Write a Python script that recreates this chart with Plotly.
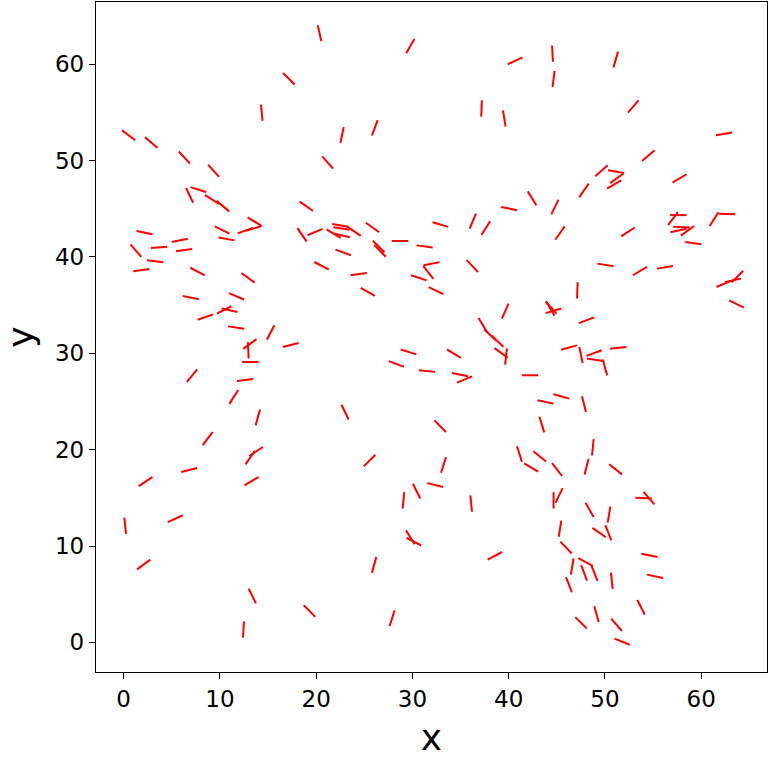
import math
import plotly.graph_objects as go

# Segment centres (data units) and direction components
cx = [14.35, 0.52, 2.86, 6.31, 9.34, 6.85, 7.76, 9.18, 10.31, 2.17, 10.23, 12.64, 13.51, 13.60,
      20.35, 29.78, 17.16, 22.69, 26.09, 21.19, 18.98, 25.86, 18.53, 19.88, 21.81, 22.51, 22.64,
      22.67, 23.93, 26.49, 26.63, 28.71, 31.27, 22.80, 20.57, 24.41, 25.36, 31.99, 31.65, 30.66,
      32.45, 15.27, 17.35, 29.60, 28.34, 31.51, 23.00, 44.55, 44.66, 40.66, 37.18, 39.54, 47.82,
      42.42, 40.05, 44.80, 36.27, 37.62, 32.90, 45.33, 51.12, 52.94, 62.37, 54.50, 49.64, 51.15,
      50.94, 51.23, 57.74, 52.39, 57.07, 57.62, 57.62, 57.95, 58.57, 61.33, 62.68, 62.37, 63.28,
      63.76, 63.66, 59.18, 50.06, 53.63, 56.23, 1.27, 3.69, 5.83, 6.28, 10.69, 3.27, 1.84, 7.68,
      12.92, 6.98, 11.72, 10.44, 11.01, 8.49, 11.69, 13.12, 12.95, 13.16, 7.10, 12.62, 11.44,
      13.94, 8.73, 13.76, 13.14, 6.81, 2.28, 13.28, 0.16, 5.37, 2.08, 13.37, 12.45, 25.55, 30.43,
      29.07, 32.37, 29.78, 30.14, 26.02, 19.31, 27.89, 36.23, 47.13, 39.64, 44.32, 44.65, 44.40,
      48.08, 37.31, 38.09, 38.83, 39.21, 39.72, 34.31, 34.94, 35.41, 42.21, 46.27, 47.51, 48.87,
      48.96, 50.00, 51.38, 43.83, 45.48, 47.82, 43.44, 32.88, 41.12, 43.22, 48.74, 33.23, 36.10,
      42.33, 45.02, 48.09, 45.23, 44.66, 48.40, 49.39, 45.33, 45.96, 38.56, 46.60, 47.98, 47.83,
      48.91, 46.26, 47.52, 49.12, 51.10, 54.01, 54.57, 50.42, 50.35, 54.62, 55.19, 50.71, 53.75,
      51.20, 51.78]
cy = [54.97, 52.63, 51.89, 50.33, 48.95, 46.40, 47.00, 45.97, 45.28, 42.53, 42.80, 42.74, 42.96, 43.67,
      63.22, 61.89, 58.50, 52.66, 53.41, 49.81, 45.26, 43.06, 42.30, 42.59, 42.43, 43.28, 42.96,
      42.25, 42.67, 41.09, 40.64, 41.66, 41.09, 40.47, 39.09, 38.22, 36.38, 39.31, 38.41, 37.84,
      36.51, 32.16, 30.86, 30.14, 28.89, 28.16, 23.90, 61.11, 58.48, 60.36, 55.42, 54.37, 46.92,
      46.09, 45.02, 45.19, 43.72, 43.00, 43.37, 42.49, 60.50, 55.62, 52.77, 50.52, 48.95, 48.86,
      47.52, 48.17, 48.15, 42.60, 43.99, 44.35, 42.75, 43.09, 42.72, 43.93, 44.46, 37.22, 37.58,
      37.97, 35.12, 41.44, 39.17, 38.54, 38.93, 40.66, 41.00, 41.73, 40.71, 41.87, 39.55, 38.64, 38.49,
      37.84, 35.79, 35.92, 34.50, 34.47, 33.77, 32.68, 30.97, 30.31, 29.10, 27.67, 27.23, 25.47,
      23.34, 21.15, 19.81, 19.18, 17.89, 16.68, 16.73, 12.11, 12.84, 8.08, 4.80, 1.33, 18.87, 15.70,
      14.74, 16.33, 10.90, 10.46, 8.05, 3.24, 2.51, 39.05, 36.54, 34.39, 34.64, 34.41, 34.76,
      33.43, 32.94, 31.89, 31.27, 30.05, 29.67, 29.97, 27.79, 27.28, 27.72, 30.60, 29.83, 30.03,
      29.33, 28.53, 30.57, 24.95, 25.52, 24.73, 22.61, 22.44, 19.54, 19.31, 20.24, 18.42, 14.40,
      18.15, 17.94, 18.24, 15.24, 14.74, 13.75, 11.39, 11.80, 9.84, 8.98, 7.86, 8.34, 7.21,
      7.18, 5.97, 2.02, 2.93, 17.96, 14.97, 14.97, 13.26, 11.37, 9.03, 6.85, 6.38, 3.63,
      1.82, 0.07]
dir_u = [1.6, 13.3, 13, 11.4, 11, 7, 16, 13.3, 11.6, 16.3, 15, 16.6, 16.7, 15,
         3.7, 8, 11.6, 3.3, 5.6, 10.7, 13.4, 13.7, 10, 16, 13.3, 16.6, 16,
         17, 12.7, 11.3, 10.7, 16, 16.7, 15.7, 14.7, 16.7, 15, 17.3, 9.4, 15,
         15, 7.3, 16, 15.3, 15.7, 16.7, 7.3, 1, 2, 15, 0.7, 2.6, 9.3,
         8.7, 16, 7.3, 6.4, 9, 16.6, 9.3, 4.4, 10.6, 15.7, 12.6, 12.3, 15,
         14, 13, 13.7, 13.3, 9, 16, 16, 16.5, 12.5, 9, 16.7, 15.7, 15,
         11, 14.3, 16, 16, 14, 16, 11, 16.3, 16.4, 16.3, 15.7, 16.3, 16.6, 14.7,
         13.3, 16.4, 15.7, 14.3, 15.3, 15.4, 16.3, 12.7, 0.6, 16.6, 10, 16.3, 8.4,
         4.4, 10, 11.7, 8.3, 15.7, 14, 14.3, 1.7, 14.6, 13.3, 7.4, 1, 11.7, 7.3,
         1.7, 16.6, 8, 15, 4.3, 11.7, 5, 11, 0.6, 6.6, 10, 15, 10.5,
         14.3, 8.4, 12, 12.3, 11.7, 1.7, 14, 16, 15, 16, 15.7, 3.3, 14.3,
         16, 4, 16, 16, 15.7, 4, 5, 11.7, 5, 12.4, 1.6, 5, 1.7,
         15, 10, 4, 7.3, 0, 8.3, 14.3, 2.7, 11.7, 14.4, 2.6, 12.7, 5.7,
         6.3, 6, 11.7, 4.3, 12.7, 16.7, 10.7, 2.7, 6, 16.3, 16, 1.6, 7,
         10.7, 15]
dir_v = [-16.4, -10, -11, -12.3, -12.4, -14.6, -5, -8.3, -9.7, -3.3, -7.3, 6, 5, -9.3,
         -16, 13.7, -11.6, 16, 15, -12.3, -9.4, -9.7, -14.4, 6.7, -8, -2.7, -2.3,
         -4, -8.6, -11, -11, 0, -2.3, -5.7, -7.6, 2.3, -8.4, 3.3, -12, -5,
         -7.3, 14.3, 4, -4.7, -6, -1.7, -15, -16.7, 16, 7, 16.7, -16.7, 13.4,
         -14, -3.3, 14.7, 15, 14.3, -5, 13.3, 15, 12.3, 2.7, 10.7, 11, -2.7,
         8.3, 9.4, 8.3, 8.7, 12, 0, 3.5, -0.8, 9, 14.3, -0.7, 6.7, 3.4,
         11, -7.3, -2.3, -2.7, 8.3, 2.6, -12.7, 1.4, 3.4, 2.3, -2.7, -2, 2.3, -7.7,
         -9.6, -3.3, -6.6, 7.3, -3.4, 5.3, -2.3, 9.3, -14.6, 0, 12.4, 2, 13.3,
         15.7, 13.3, 7.7, 12.3, 4, 9.3, 8.3, -16, 6.7, 9.7, -15, 16.3, 11.7, -15,
         16.6, -4, -12.6, -7.7, 15.6, -11.7, 15.7, -11.7, 16.6, 15, -16.7, 4.4, -11.5,
         5.4, -14, -11.5, -11.7, -8.4, 15.7, -8.7, -3.3, 6.3, 0, 4.3, -16, 5.3,
         -2.4, -14.3, 1.6, -3.3, -4.3, -15.7, -16.3, -11.7, -15.7, -10, 16, 15.6, -16.7,
         -9, -13, 16, 15, 16.6, -14.4, -10, 16.7, -12.3, 7.6, 16, -6.7, -15,
         -15.7, -15.6, -11.6, -15.7, -10, -1, -12.3, 16.7, -15, -3.4, -3.4, -15.6, -14,
         -12.4, -6]
seg_len = 1.7

xs, ys = [], []
for x, y, u, v in zip(cx, cy, dir_u, dir_v):
    a = math.atan2(v, u)
    dx, dy = 0.5 * seg_len * math.cos(a), 0.5 * seg_len * math.sin(a)
    xs += [x - dx, x + dx, None]
    ys += [y - dy, y + dy, None]

fig = go.Figure(go.Scatter(x=xs, y=ys, mode="lines",
                           line=dict(color="#ff0000", width=2), hoverinfo="skip"))

axis_common = dict(showgrid=False, zeroline=False, showline=True, mirror=True,
                   linecolor="black", linewidth=1.4, ticks="outside", ticklen=6,
                   tickwidth=1.4, tickcolor="black", automargin=False,
                   tickfont=dict(family="DejaVu Sans", size=23, color="black"),
                   tickvals=[0, 10, 20, 30, 40, 50, 60])
fig.update_xaxes(range=[-2.87, 66.83],
                 title=dict(text="x", font=dict(family="DejaVu Sans", size=36, color="black"), standoff=16),
                 **axis_common)
fig.update_yaxes(range=[-3.08, 66.47],
                 title=dict(text="y", font=dict(family="DejaVu Sans", size=36, color="black"), standoff=38),
                 **axis_common)
fig.update_layout(width=770, height=758, margin=dict(l=96, r=3, t=2, b=86),
                  plot_bgcolor="white", paper_bgcolor="white", showlegend=False)
fig.write_html("out.html", config={"displayModeBar": False},
               post_script="document.body.style.margin='0';document.body.style.overflow='hidden';")
